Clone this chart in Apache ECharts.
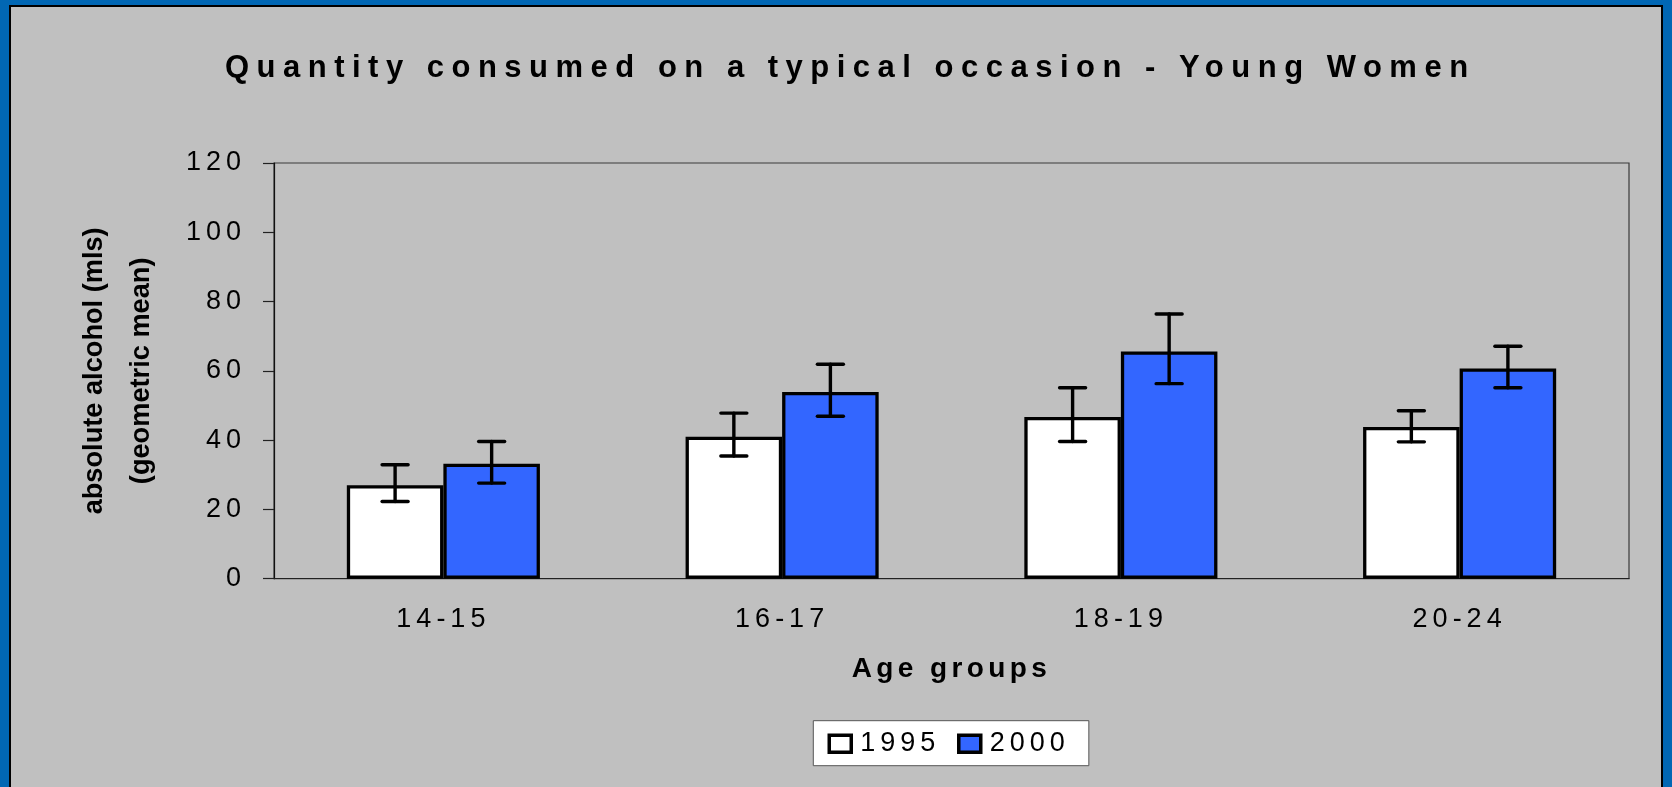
<!DOCTYPE html>
<html>
<head>
<meta charset="utf-8">
<script src="https://cdn.jsdelivr.net/npm/echarts@6/dist/echarts.min.js"></script>
<style>
  html, body { margin: 0; padding: 0; }
  #wrap { position: relative; width: 1672px; height: 787px; background: #0167B4; overflow: hidden; }
  #inner { position: absolute; left: 9px; top: 5px; width: 1654px; height: 800px; box-sizing: border-box;
           border: 2px solid #000; border-bottom: none; background: #C0C0C0; }
  #chart { position: absolute; left: 0; top: 0; width: 1672px; height: 787px; }
</style>
</head>
<body>
<div id="wrap"><div id="inner"></div><div id="chart"></div></div>
<script>
// ---- data ----
const TITLE = 'Quantity consumed on a typical occasion - Young Women';
const categories = ['14-15', '16-17', '18-19', '20-24'];
const seriesNames = ['1995', '2000'];
const values1995 = [27.0, 41.0, 46.7, 43.8];
const values2000 = [33.2, 53.9, 65.6, 60.7];
const errLow1995 = [22.3, 35.4, 39.6, 39.5];
const errHigh1995 = [32.9, 47.8, 55.1, 48.5];
const errLow2000 = [27.6, 46.9, 56.3, 55.1];
const errHigh2000 = [39.6, 61.9, 76.4, 67.1];
const yTicks = [0, 20, 40, 60, 80, 100, 120];
const xAxisName = 'Age groups';
const yAxisName = 'absolute alcohol (mls)\n(geometric mean)';

// ---- letter spacing (keyed by exact font size) ----
const FONT = "'Liberation Sans', Arial, sans-serif";
const SPACING = { '31': 7.5, '27': 5, '28': 4.4 };
function spacingFor(font) {
  const m = /(\d+(?:\.\d+)?)px/.exec(font || '');
  if (!m) return 0;
  const k = String(parseFloat(m[1]));
  return SPACING[k] || 0;
}
(function () {
  const P = CanvasRenderingContext2D.prototype;
  const of = P.fillText, os = P.strokeText, om = P.measureText;
  P.fillText = function () { this.letterSpacing = spacingFor(this.font) + 'px'; return of.apply(this, arguments); };
  P.strokeText = function () { this.letterSpacing = spacingFor(this.font) + 'px'; return os.apply(this, arguments); };
  P.measureText = function () { this.letterSpacing = spacingFor(this.font) + 'px'; return om.apply(this, arguments); };
})();

const TITLE_SIZE = 31;
const mctx = document.createElement('canvas').getContext('2d');
mctx.font = "bold " + TITLE_SIZE + "px " + FONT;
const titleW = mctx.measureText(TITLE).width;
const titleLeft = 846.5 - (titleW - SPACING[String(TITLE_SIZE)]) / 2;

const BAR_CAT_GAP = 0.43;
const BAR_FRACTION = (1 - BAR_CAT_GAP) / 2;

function makeErr(sign) {
  return function (params, api) {
    const i = api.value(0);
    const lo = api.coord([i, api.value(1)]);
    const hi = api.coord([i, api.value(2)]);
    const cw = api.size([1, 0])[0];
    const x = lo[0] + sign * cw * BAR_FRACTION / 2;
    const half = 13;
    const st = { stroke: '#000', lineWidth: 3.4, lineCap: 'round' };
    return {
      type: 'group',
      children: [
        { type: 'line', shape: { x1: x, y1: lo[1], x2: x, y2: hi[1] }, style: st },
        { type: 'line', shape: { x1: x - half, y1: hi[1], x2: x + half, y2: hi[1] }, style: st },
        { type: 'line', shape: { x1: x - half, y1: lo[1], x2: x + half, y2: lo[1] }, style: st }
      ]
    };
  };
}

const chart = echarts.init(document.getElementById('chart'), null, { renderer: 'canvas' });
chart.setOption({
  animation: false,
  backgroundColor: 'transparent',
  textStyle: { fontFamily: FONT },
  title: {
    text: TITLE, left: titleLeft, top: 49.5, padding: 0,
    textStyle: { fontSize: TITLE_SIZE, fontWeight: 'bold', color: '#000', fontFamily: FONT }
  },
  grid: { left: 274, top: 163, width: 1355, height: 415.7, show: true, borderColor: '#3a3a3a', borderWidth: 1.2, backgroundColor: 'transparent' },
  legend: {
    data: seriesNames, left: 813.3, top: 720.7, padding: [7, 19, 6, 14.2],
    itemGap: 16.7, itemWidth: 22, itemHeight: 17, icon: 'rect',
    backgroundColor: '#fff', borderColor: '#555', borderWidth: 1, borderRadius: 0,
    itemStyle: { borderColor: '#000', borderWidth: 3.5 },
    textStyle: { fontSize: 27, lineHeight: 26, color: '#000', fontFamily: FONT, padding: [0, 0, 0, 4] }
  },
  xAxis: {
    type: 'category', data: categories,
    axisLine: { lineStyle: { color: '#222', width: 1.2 } },
    axisTick: { length: 8, lineStyle: { color: '#222', width: 1.2 } },
    axisLabel: { margin: 25, fontSize: 27, color: '#000', fontFamily: FONT, interval: 0 },
    name: xAxisName, nameLocation: 'middle', nameGap: 74.3,
    nameTextStyle: { fontSize: 28, fontWeight: 'bold', color: '#000', fontFamily: FONT }
  },
  yAxis: {
    type: 'value', min: yTicks[0], max: yTicks[yTicks.length - 1], interval: yTicks[1] - yTicks[0],
    axisLine: { show: true, lineStyle: { color: '#111', width: 1.2 } },
    axisTick: { show: true, length: 11, lineStyle: { color: '#222', width: 1.2 } },
    splitLine: { show: false },
    axisLabel: { margin: 28, fontSize: 27, color: '#000', fontFamily: FONT },
    name: yAxisName, nameLocation: 'middle', nameRotate: 90, nameGap: 109,
    nameTextStyle: { fontSize: 27.2, fontWeight: 'bold', color: '#000', fontFamily: FONT, lineHeight: 47 }
  },
  series: [
    { name: seriesNames[0], type: 'bar', data: values1995, barGap: '0%', barCategoryGap: (BAR_CAT_GAP * 100) + '%',
      itemStyle: { color: '#FFFFFF', borderColor: '#000', borderWidth: 3.3 } },
    { name: seriesNames[1], type: 'bar', data: values2000, barGap: '0%', barCategoryGap: (BAR_CAT_GAP * 100) + '%',
      itemStyle: { color: '#3366FF', borderColor: '#000', borderWidth: 3.3 } },
    { type: 'custom', renderItem: makeErr(-1), z: 10, silent: true,
      encode: { x: 0, y: [1, 2] },
      data: categories.map((c, i) => [i, errLow1995[i], errHigh1995[i]]) },
    { type: 'custom', renderItem: makeErr(1), z: 10, silent: true,
      encode: { x: 0, y: [1, 2] },
      data: categories.map((c, i) => [i, errLow2000[i], errHigh2000[i]]) }
  ]
});
</script>
</body>
</html>
